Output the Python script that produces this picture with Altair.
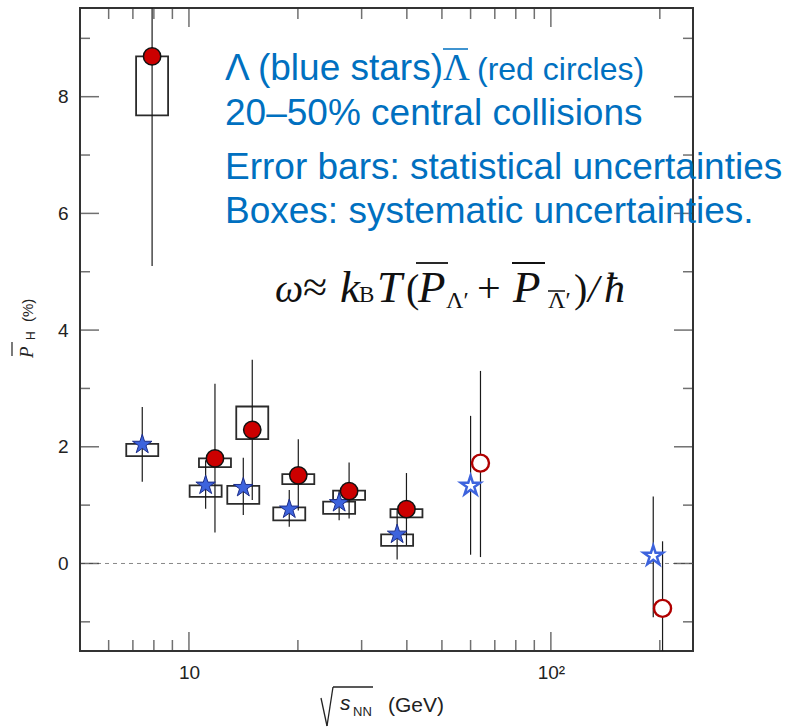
import altair as alt
import pandas as pd

# ---------------- data ----------------
# Lambda (blue stars)
lam_energy = [7.43, 11.12, 14.13, 18.93, 26.0, 37.6, 60.0, 191.8]
lam_pol = [2.04, 1.34, 1.30, 0.93, 1.04, 0.50, 1.33, 0.13]
lam_stat_lo = [1.40, 0.94, 0.83, 0.63, 0.74, 0.07, 0.15, -0.92]
lam_stat_hi = [2.68, 1.77, 1.81, 1.26, 1.25, 0.93, 2.53, 1.15]
lam_source = ["BES", "BES", "BES", "BES", "BES", "BES", "earlier", "earlier"]
lam_sys_energy = [7.43, 11.12, 14.13, 18.93, 26.0, 37.6]
lam_sys_lo = [1.84, 1.14, 1.02, 0.74, 0.85, 0.30]
lam_sys_hi = [2.05, 1.34, 1.33, 0.96, 1.06, 0.50]

# anti-Lambda (red circles)
alam_energy = [7.91, 11.80, 14.96, 20.05, 27.7, 39.9, 63.9, 203.5]
alam_pol = [8.69, 1.80, 2.29, 1.51, 1.24, 0.93, 1.72, -0.77]
alam_stat_lo = [5.10, 0.53, 1.09, 0.91, 0.77, 0.31, 0.11, -1.92]
alam_stat_hi = [12.28, 3.08, 3.49, 2.13, 1.73, 1.55, 3.30, 0.38]
alam_source = ["BES", "BES", "BES", "BES", "BES", "BES", "earlier", "earlier"]
alam_sys_energy = [7.91, 11.80, 14.96, 20.05, 27.7, 39.9]
alam_sys_lo = [7.68, 1.65, 2.13, 1.36, 1.09, 0.79]
alam_sys_hi = [8.69, 1.80, 2.69, 1.53, 1.25, 0.93]

# axis ticks
x_major = [10, 100]
x_minor = [6, 7, 8, 9, 20, 30, 40, 50, 60, 70, 80, 90, 200]
y_major = [0, 2, 4, 6, 8]
y_minor = [-1, 1, 3, 5, 7, 9]
X_MIN, X_MAX = 5.0, 247.0
Y_MIN, Y_MAX = -1.5, 9.52

# ---------------- tables ----------------
pts = pd.concat([
    pd.DataFrame({"E": lam_energy, "P": lam_pol, "lo": lam_stat_lo, "hi": lam_stat_hi,
                  "particle": "Lambda", "source": lam_source}),
    pd.DataFrame({"E": alam_energy, "P": alam_pol, "lo": alam_stat_lo, "hi": alam_stat_hi,
                  "particle": "antiLambda", "source": alam_source}),
], ignore_index=True)
boxes = pd.concat([
    pd.DataFrame({"E": lam_sys_energy, "lo": lam_sys_lo, "hi": lam_sys_hi}),
    pd.DataFrame({"E": alam_sys_energy, "lo": alam_sys_lo, "hi": alam_sys_hi}),
], ignore_index=True)

W, H = 613, 643
OX, OY = 80, 8
BLUE_TXT = "#0070C0"
FRAME = "#333333"

xs = alt.Scale(type="log", domain=[X_MIN, X_MAX], nice=False, padding=0)
ys = alt.Scale(domain=[Y_MIN, Y_MAX], nice=False, zero=False, padding=0)
xax = alt.Axis(values=x_major, ticks=False, tickSize=0, domain=False, grid=False,
               labelExpr="datum.value == 100 ? '10²' : '10'", labelFont="Liberation Sans",
               labelFontSize=19, labelColor="#222222", labelPadding=12, title=None)
yax = alt.Axis(values=y_major, ticks=False, tickSize=0, domain=False, grid=False,
               labelFont="Liberation Sans", labelFontSize=19, labelColor="#222222",
               labelPadding=12, title=None)


def X(f):
    return alt.X(f, type="quantitative", scale=xs, axis=xax)


def Y(f):
    return alt.Y(f, type="quantitative", scale=ys, axis=yax)


layers = []

# zero line
layers.append(alt.Chart(pd.DataFrame({"z": [0]})).mark_rule(
    color="#888888", strokeDash=[4, 4], strokeWidth=1).encode(y=Y("z")))


# inward frame ticks
def tick_layer(vals, axis, length):
    df = pd.DataFrame({"v": vals})
    if axis in ("bottom", "top"):
        ydat = Y_MIN if axis == "bottom" else Y_MAX
        off = -length / 2 if axis == "bottom" else length / 2
        return alt.Chart(df).mark_tick(orient="vertical", size=length, thickness=1.5,
                                       color=FRAME, yOffset=off).encode(
            x=X("v"), y=alt.YDatum(ydat, scale=ys, axis=yax))
    xdat = X_MIN if axis == "left" else X_MAX
    off = length / 2 if axis == "left" else -length / 2
    return alt.Chart(df).mark_tick(orient="horizontal", size=length, thickness=1.5,
                                   color=FRAME, xOffset=off).encode(
        y=Y("v"), x=alt.XDatum(xdat, scale=xs, axis=xax))


for side in ("bottom", "top"):
    layers.append(tick_layer(x_major, side, 19))
    layers.append(tick_layer(x_minor, side, 11))
for side in ("left", "right"):
    layers.append(tick_layer(y_major, side, 19))
    layers.append(tick_layer(y_minor, side, 10))

# systematic boxes
layers.append(alt.Chart(boxes).mark_bar(width=32, fillOpacity=0, stroke="#2b2b2b",
                                        strokeWidth=1.8).encode(
    x=X("E"), y=Y("lo"), y2="hi"))

# statistical error bars
layers.append(alt.Chart(pts).mark_rule(color="#1a1a1a", strokeWidth=1.2, clip=True).encode(
    x=X("E"), y=Y("lo"), y2="hi"))

STAR = ("M0,-1L0.2245,-0.309L0.951,-0.309L0.363,0.118L0.588,0.809L0,0.382"
        "L-0.588,0.809L-0.363,0.118L-0.951,-0.309L-0.2245,-0.309Z")

base = alt.Chart(pts)
# filled stars
layers.append(base.transform_filter("datum.particle == 'Lambda' && datum.source == 'BES'")
              .mark_point(shape=STAR, size=420, filled=True, fill="#3d63dd", fillOpacity=1,
                          stroke="#1c2d8a", strokeWidth=1, opacity=1)
              .encode(x=X("E"), y=Y("P")))
# open stars
layers.append(base.transform_filter("datum.particle == 'Lambda' && datum.source == 'earlier'")
              .mark_point(shape=STAR, size=420, filled=True, fill="white", fillOpacity=1,
                          stroke="#3d63dd", strokeWidth=2.5, opacity=1)
              .encode(x=X("E"), y=Y("P")))
# filled circles
layers.append(base.transform_filter("datum.particle == 'antiLambda' && datum.source == 'BES'")
              .mark_point(shape="circle", size=300, filled=True, fill="#cc0000", fillOpacity=1,
                          stroke="#111111", strokeWidth=1.5, opacity=1)
              .encode(x=X("E"), y=Y("P")))
# open circles
layers.append(base.transform_filter("datum.particle == 'antiLambda' && datum.source == 'earlier'")
              .mark_point(shape="circle", size=290, filled=True, fill="white", fillOpacity=1,
                          stroke="#b00000", strokeWidth=2.4, opacity=1)
              .encode(x=X("E"), y=Y("P")))


# ---------------- annotations ----------------
def txt(s, x, y, size, font="Liberation Sans", color=BLUE_TXT, style="normal", angle=0,
        align="left"):
    return alt.Chart(pd.DataFrame({"t": [s]})).mark_text(
        align=align, baseline="alphabetic", font=font, fontSize=size, fontStyle=style,
        color=color, angle=angle).encode(text="t:N", x=alt.value(x - OX), y=alt.value(y - OY))


def seg(x1, y1, x2, y2, color, w=1.5):
    return alt.Chart(pd.DataFrame({"a": [0]})).mark_rule(color=color, strokeWidth=w).encode(
        x=alt.value(x1 - OX), y=alt.value(y1 - OY), x2=alt.value(x2 - OX), y2=alt.value(y2 - OY))


layers += [
    txt("Λ (blue stars)", 225, 80, 37),
    txt("Λ", 443, 80, 37, font="Liberation Serif"),
    seg(443, 49, 468, 49, BLUE_TXT, 1.5),
    txt("(red circles)", 477, 80, 32),
    txt("20–50% central collisions", 225, 125, 37),
    txt("Error bars: statistical uncertainties", 225, 179, 37),
    txt("Boxes: systematic uncertainties.", 225, 223, 37),
]

# formula
FC = "#111111"
SERIF = "Liberation Serif"
layers += [
    txt("ω", 275, 302, 40, SERIF, FC, "italic"),
    txt("≈", 303, 302, 44, SERIF, FC),
    txt("k", 340, 302, 45, SERIF, FC, "italic"),
    txt("B", 359, 302, 23, SERIF, FC),
    txt("T", 377, 302, 45, SERIF, FC, "italic"),
    txt("(", 406, 302, 40, SERIF, FC),
    txt("P", 418, 302, 45, SERIF, FC, "italic"),
    seg(416, 263, 448, 263, FC, 1.8),
    txt("Λ′", 446, 308, 24, SERIF, FC),
    txt("+", 477, 302, 42, SERIF, FC),
    txt("P", 513, 302, 45, SERIF, FC, "italic"),
    seg(512, 263, 545, 263, FC, 1.8),
    txt("Λ′", 548, 308, 24, SERIF, FC),
    seg(548, 291, 565, 291, FC, 1.5),
    txt(")", 574, 302, 40, SERIF, FC),
    txt("/", 588, 302, 40, SERIF, FC, "italic"),
    txt("ħ", 604, 302, 42, SERIF, FC, "italic"),
]

# y axis title (rotated)
AX = "#222222"
layers += [
    txt("P", 33, 358, 19, SERIF, AX, "italic", angle=270),
    seg(12, 342, 12, 356, AX, 1.2),
    txt("H", 35, 340, 12, "Liberation Sans", AX, angle=270),
    txt("(%)", 33, 322, 15, "Liberation Sans", AX, angle=270),
]

# x axis title: radical drawn with strokes
layers += [
    seg(321, 698, 327, 726, AX, 1.3),
    seg(327, 726, 333, 687, AX, 1.3),
    seg(333, 687, 373, 687, AX, 1.3),
    txt("s", 340, 710, 21, "Liberation Sans", AX, "italic"),
    txt("NN", 353, 716, 13, "Liberation Sans", AX),
    txt("(GeV)", 388, 712, 21, "Liberation Sans", AX),
]

chart = alt.layer(*layers).properties(
    width=W, height=H,
    padding={"left": OX, "top": OY, "right": 786 - OX - W, "bottom": 728 - OY - H},
    autosize=alt.AutoSizeParams(type="none"),
).configure_view(stroke=FRAME, strokeWidth=2)

chart.save("out.html", embed_options={"renderer": "svg", "actions": False})
